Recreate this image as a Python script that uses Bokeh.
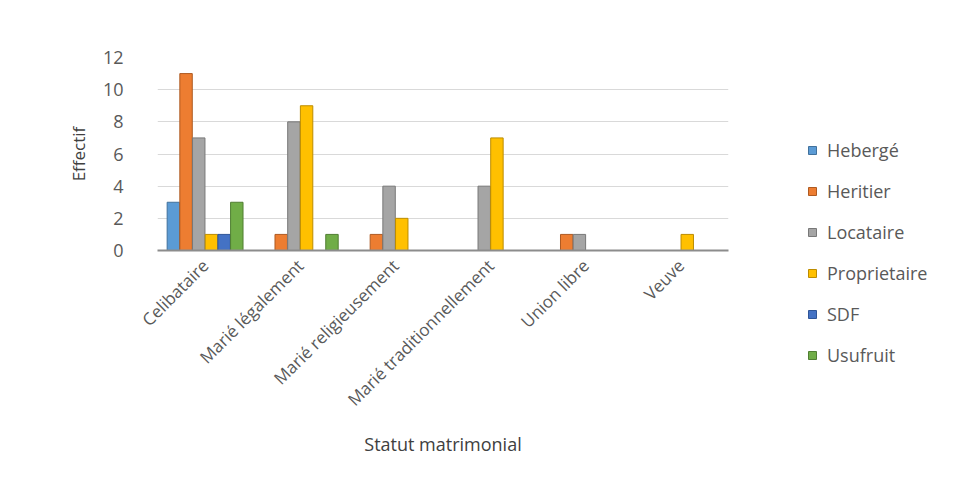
from bokeh.plotting import figure
from bokeh.models import FactorRange, Legend, LegendItem, ColumnDataSource
from bokeh.transform import dodge
from bokeh.embed import file_html
from bokeh.resources import INLINE
import math

categories = ["Celibataire", "Marié légalement", "Marié religieusement",
              "Marié traditionnellement", "Union libre", "Veuve"]
series_names = ["Hebergé", "Heritier", "Locataire", "Proprietaire", "SDF", "Usufruit"]
hebergé = [3, 0, 0, 0, 0, 0]
heritier = [11, 1, 1, 0, 1, 0]
locataire = [7, 8, 4, 4, 1, 0]
proprietaire = [1, 9, 2, 7, 0, 1]
sdf = [1, 0, 0, 0, 0, 0]
usufruit = [3, 1, 0, 0, 0, 0]
y_ticks = [0, 2, 4, 6, 8, 10, 12]

colors = ["#5B9BD5", "#ED7D31", "#A5A5A5", "#FFC000", "#4472C4", "#70AD47"]
edges = ["#41719C", "#AE5A21", "#787878", "#BC8C00", "#2F5597", "#507E32"]

source = ColumnDataSource(dict(cat=categories, s0=hebergé, s1=heritier, s2=locataire,
                               s3=proprietaire, s4=sdf, s5=usufruit))

p = figure(x_range=FactorRange(factors=categories), y_range=(0, 12),
           frame_width=571, frame_height=193, output_backend="svg", toolbar_location=None,
           min_border_left=157, min_border_right=0, min_border_top=57,
           min_border_bottom=216)
p.outline_line_color = None
p.background_fill_color = "white"

bw = 0.8 / 6
items = []
for i, name in enumerate(series_names):
    off = (i - 2.5) * bw
    r = p.vbar(x=dodge("cat", off, range=p.x_range), top="s%d" % i, width=bw * 0.98,
               source=source, fill_color=colors[i], line_color=edges[i], line_width=1)
    items.append(LegendItem(label=name, renderers=[r]))

legend = Legend(items=items, location=(79, -117), orientation="vertical",
                glyph_width=10, glyph_height=10, label_standoff=10,
                label_height=24, spacing=17, padding=0, margin=0,
                border_line_color=None, background_fill_alpha=0,
                label_text_font="Open Sans", label_text_font_size="18px",
                label_text_color="#595959")
p.add_layout(legend, "right")

p.xgrid.grid_line_color = None
p.ygrid.grid_line_color = "#D9D9D9"
p.ygrid.grid_line_width = 1.2
p.yaxis.ticker = y_ticks
p.yaxis.axis_line_color = None
p.yaxis.major_tick_line_color = None
p.yaxis.minor_tick_line_color = None
p.yaxis.major_label_text_font = "Open Sans"
p.yaxis.major_label_text_font_size = "18px"
p.yaxis.major_label_text_color = "#595959"
p.yaxis.major_label_standoff = 28
p.yaxis.axis_label = "Effectif"
p.yaxis.axis_label_text_font = "Open Sans"
p.yaxis.axis_label_text_font_size = "17px"
p.yaxis.axis_label_text_font_style = "normal"
p.yaxis.axis_label_text_color = "#404040"
p.yaxis.axis_label_standoff = 10

p.xaxis.axis_line_color = "#8C8C8C"
p.xaxis.axis_line_width = 2
p.xaxis.major_tick_line_color = None
p.xaxis.minor_tick_line_color = None
p.xaxis.major_label_orientation = math.pi / 4
p.xaxis.major_label_text_font = "Open Sans"
p.xaxis.major_label_text_font_size = "17px"
p.xaxis.major_label_text_color = "#595959"
p.xaxis.major_label_standoff = 6
p.xaxis.axis_label = "Statut matrimonial"
p.xaxis.axis_label_text_font = "Open Sans"
p.xaxis.axis_label_text_font_size = "18px"
p.xaxis.axis_label_text_font_style = "normal"
p.xaxis.axis_label_text_color = "#404040"
p.xaxis.axis_label_standoff = 10

open("out.html", "w").write(file_html(p, INLINE))
